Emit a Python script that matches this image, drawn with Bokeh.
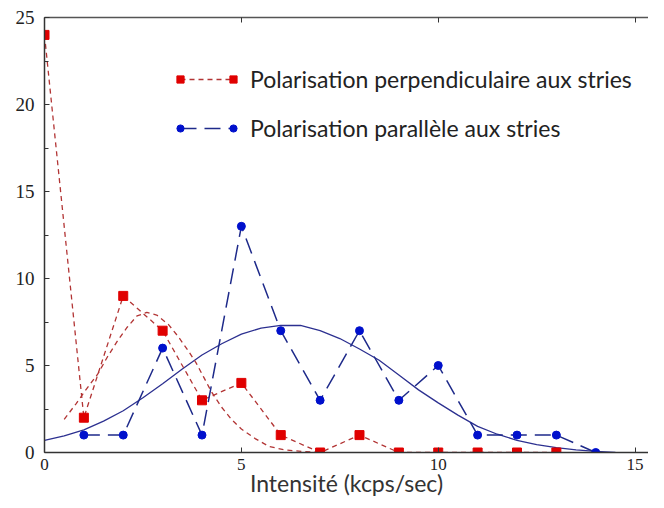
from bokeh.plotting import figure
from bokeh.models import (LinearAxis, FixedTicker, Legend, LegendItem, Range1d)
from bokeh.core.properties import value
from bokeh.embed import file_html
from bokeh.resources import INLINE

# --- data ---
perp_x = [0, 1, 2, 3, 4, 5, 6, 7, 8, 9, 10, 11, 12, 13]
perp_y = [24, 2, 9, 7, 3, 4, 1, 0, 1, 0, 0, 0, 0, 0]

para_x = [1, 2, 3, 4, 5, 6, 7, 8, 9, 10, 11, 12, 13, 14]
para_y = [1, 1, 6, 1, 13, 7, 3, 7, 3, 5, 1, 1, 1, 0]

# fitted curve of the perpendicular series
perp_fit_x = [0.5, 0.8, 1.05, 1.35, 1.6, 1.85, 2.1, 2.35, 2.6, 2.85, 3.15, 3.4,
              3.65, 3.85, 4.05, 4.25, 4.5, 4.75, 5.0, 5.35, 5.7, 6.1, 6.6, 7.0]
perp_fit_y = [1.9, 2.8, 3.6, 4.5, 5.5, 6.4, 7.2, 7.85, 8.05, 7.9, 7.35, 6.65,
              5.85, 5.15, 4.3, 3.45, 2.6, 1.9, 1.35, 0.8, 0.35, 0.15, 0.05, 0.0]

# fitted curve of the parallel series
para_fit_x = [0, 0.5, 1, 1.5, 2, 2.5, 3, 3.5, 4, 4.5, 5, 5.5, 6, 6.5, 7, 7.5,
              8, 8.5, 9, 9.5, 10, 10.5, 11, 11.5, 12, 12.5, 13, 13.5, 14, 14.5]
para_fit_y = [0.7, 0.95, 1.3, 1.8, 2.4, 3.15, 3.95, 4.8, 5.6, 6.25, 6.8, 7.15,
              7.3, 7.3, 7.0, 6.55, 5.95, 5.3, 4.45, 3.6, 2.85, 2.15, 1.5, 1.05,
              0.7, 0.45, 0.28, 0.15, 0.07, 0.0]

x_ticks = [0, 5, 10, 15]
y_ticks = [0, 5, 10, 15, 20, 25]

label_perp = "Polarisation perpendiculaire aux stries"
label_para = "Polarisation parallèle aux stries"
x_title = "Intensité (kcps/sec)"

RED_M = "#E00000"
RED_L = "#B23434"
BLUE_M = "#0010CC"
BLUE_L = "#1E2A8A"
BLUE_FIT = "#2C3090"

p = figure(width=648, height=500, output_backend="svg", toolbar_location=None,
           x_range=Range1d(0, 15.34), y_range=Range1d(0, 25),
           x_axis_location=None, y_axis_location=None,
           min_border_left=44, min_border_right=0, min_border_top=17,
           min_border_bottom=48)
p.grid.visible = False
p.outline_line_color = None
p.background_fill_color = "white"
p.border_fill_color = "white"

# axes
xax = LinearAxis(ticker=FixedTicker(ticks=x_ticks), axis_label=x_title)
xax.major_tick_in = 5
xax.major_tick_out = 0
xax.minor_tick_line_color = None
xax.axis_line_color = "#333333"
xax.axis_line_width = 1.5
xax.major_tick_line_color = "#333333"
xax.major_label_text_font = "Liberation Serif"
xax.major_label_text_font_size = "17px"
xax.major_label_text_color = "#222222"
xax.major_label_standoff = 6
xax.axis_label_text_font = "Lato"
xax.axis_label_text_font_style = "normal"
xax.axis_label_text_font_size = "23px"
xax.axis_label_text_color = "#333333"
xax.axis_label_standoff = -4
p.add_layout(xax, "below")

top = LinearAxis(ticker=FixedTicker(ticks=x_ticks))
top.major_tick_in = 5
top.major_tick_out = 0
top.minor_tick_line_color = None
top.major_label_text_font_size = "0px"
top.major_label_text_color = None
top.axis_line_color = "#555555"
top.axis_line_width = 1.5
top.major_tick_line_color = "#333333"
p.add_layout(top, "above")

yax = LinearAxis(ticker=FixedTicker(ticks=y_ticks,
                                    minor_ticks=[2.5, 7.5, 12.5, 17.5, 22.5]))
yax.major_tick_in = 5
yax.major_tick_out = 0
yax.minor_tick_in = 4
yax.minor_tick_out = 0
yax.axis_line_color = "#333333"
yax.axis_line_width = 1.5
yax.major_tick_line_color = "#333333"
yax.minor_tick_line_color = "#333333"
yax.major_label_text_font = "Liberation Serif"
yax.major_label_text_font_size = "19px"
yax.major_label_text_color = "#222222"
yax.major_label_standoff = 10
p.add_layout(yax, "left")

# curves
p.line(para_fit_x, para_fit_y, line_color=BLUE_FIT, line_width=1.3)
p.line(perp_fit_x, perp_fit_y, line_color=RED_L, line_width=1.3, line_dash="5 4")
r_perp_line = p.line(perp_x, perp_y, line_color=RED_L, line_width=1.3, line_dash="5 4")
r_para_line = p.line(para_x, para_y, line_color=BLUE_L, line_width=1.5, line_dash="16 8")
r_perp_pts = p.scatter(perp_x, perp_y, marker="square", size=9,
                       fill_color=RED_M, line_color=RED_M)
r_para_pts = p.scatter(para_x, para_y, marker="circle", size=8,
                       fill_color=BLUE_M, line_color=BLUE_M)

# legend: lines + labels, then markers at both ends of each sample line
def style(leg):
    leg.background_fill_alpha = 0
    leg.border_line_color = None
    leg.padding = 0
    leg.margin = 0
    leg.spacing = 19
    leg.glyph_height = 30
    leg.label_height = 30
    leg.label_text_font = "Lato"
    leg.label_text_font_size = "23px"
    leg.label_text_color = "#222222"
    leg.label_text_baseline = "middle"
    return leg

leg_lines = style(Legend(items=[LegendItem(label=label_perp, renderers=[r_perp_line]),
                                LegendItem(label=label_para, renderers=[r_para_line])],
                         location=(136, 309)))
leg_lines.glyph_width = 53
leg_lines.label_standoff = 17
p.add_layout(leg_lines)

for lx in (127, 180):
    lm = style(Legend(items=[LegendItem(label=value(""), renderers=[r_perp_pts]),
                             LegendItem(label=value(""), renderers=[r_para_pts])],
                      location=(lx, 309)))
    lm.glyph_width = 18
    lm.label_standoff = 0
    lm.label_width = 0
    p.add_layout(lm)

open("out.html", "w").write(file_html(p, INLINE))
